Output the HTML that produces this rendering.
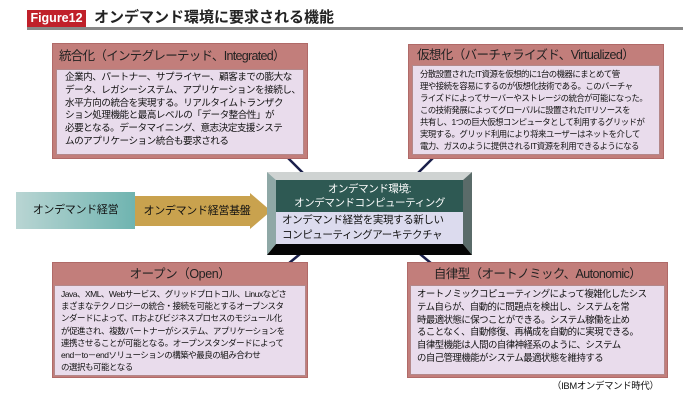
<!DOCTYPE html>
<html><head><meta charset="utf-8"><style>
body{margin:0;width:683px;height:404px;background:#fff;position:relative;overflow:hidden;font-family:"Liberation Sans","Noto Sans CJK JP",sans-serif;color:#111}
.a{position:absolute}
.box{position:absolute;background:#c27e7b;border:1px solid #b06a68}
.hd{height:22px;line-height:22px;text-align:center;font-size:12.5px;color:#222;white-space:nowrap;letter-spacing:-0.4px}
.bd{position:absolute;background:#e9dcec;border:1px solid #b3888a;font-size:9.4px;line-height:13px;padding:2px 0 0 8px;box-sizing:border-box;letter-spacing:-0.4px;white-space:nowrap;overflow:hidden}
</style></head><body>
<div class="a" style="left:27px;top:10px;width:59px;height:17px;background:#c0202a;color:#fff;font-weight:bold;font-size:12.5px;line-height:17px;text-align:center">Figure12</div>
<div class="a" style="left:94px;top:9px;font-size:15px;line-height:18px;font-weight:bold;color:#222">オンデマンド環境に要求される機能</div>
<div class="a" style="left:27px;top:27px;width:656px;height:3px;background:#888"></div>

<svg class="a" style="left:0;top:0" width="683" height="404">
<g stroke="#1a1f4a" stroke-width="2.5">
<line x1="288" y1="158" x2="303" y2="173"/>
<line x1="433" y1="158" x2="418" y2="173"/>
<line x1="300" y1="254" x2="288" y2="264"/>
<line x1="420" y1="254" x2="432" y2="264"/>
</g>
<polygon points="135,196 250,196 250,193 271,211 250,229 250,226 135,226" fill="#c9a24e"/>
<polygon points="267,172 472,172 463,180 276,180" fill="#cfd3d2"/>
<polygon points="267,172 276,180 276,244 267,255" fill="#8fa8a6"/>
<polygon points="472,172 463,180 463,244 472,255" fill="#5a6b69"/>
<polygon points="267,255 276,244 463,244 472,255" fill="#050505"/>
</svg>

<div class="a" style="left:16px;top:192px;width:119px;height:37px;background:linear-gradient(90deg,#b9d5d3,#6fb4b0);line-height:37px;text-align:center;font-size:11px;letter-spacing:-0.3px">オンデマンド経営</div>
<div class="a" style="left:138px;top:196px;width:118px;height:30px;line-height:30px;text-align:center;font-size:11px;letter-spacing:-0.3px">オンデマンド経営基盤</div>

<div class="a" style="left:276px;top:180px;width:187px;height:32px;background:#2e5953;color:#fff;font-size:10.5px;line-height:14px;text-align:center;padding-top:2px;box-sizing:border-box;letter-spacing:-0.4px;white-space:nowrap">オンデマンド環境:<br>オンデマンドコンピューティング</div>
<div class="a" style="left:276px;top:212px;width:187px;height:32px;background:#dcdbee;font-size:10.5px;line-height:15px;padding:1px 0 0 6px;box-sizing:border-box;white-space:nowrap;letter-spacing:-0.4px">オンデマンド経営を実現する新しい<br>コンピューティングアーキテクチャ</div>

<div class="box" style="left:52px;top:43px;width:254px;height:114px"><div class="hd" style="height:25px;line-height:25px;text-align:left;padding-left:6px;font-size:12.5px;letter-spacing:-0.7px">統合化（インテグレーテッド、Integrated）</div>
<div class="bd" style="left:3px;top:25px;width:248px;height:86px;font-size:9.6px;line-height:12.8px;letter-spacing:-0.5px">企業内、パートナー、サプライヤー、顧客までの膨大な<br>データ、レガシーシステム、アプリケーションを接続し、<br>水平方向の統合を実現する。リアルタイムトランザク<br>ション処理機能と最高レベルの「データ整合性」が<br>必要となる。データマイニング、意志決定支援システ<br>ムのアプリケーション統合も要求される</div></div>

<div class="box" style="left:408px;top:44px;width:254px;height:113px"><div class="hd" style="height:20px;line-height:20px;text-align:left;padding-left:8px;letter-spacing:-0.6px">仮想化（バーチャライズド、Virtualized）</div>
<div class="bd" style="left:3px;top:20px;width:248px;height:90px;font-size:8.4px;line-height:12px;padding-left:7px;letter-spacing:-0.5px">分散設置されたIT資源を仮想的に1台の機器にまとめて管<br>理や接続を容易にするのが仮想化技術である。このバーチャ<br>ライズドによってサーバーやストレージの統合が可能になった。<br>この技術発展によってグローバルに設置されたITリソースを<br>共有し、1つの巨大仮想コンピュータとして利用するグリッドが<br>実現する。グリッド利用により将来ユーザーはネットを介して<br>電力、ガスのように提供されるIT資源を利用できるようになる</div></div>

<div class="box" style="left:52px;top:262px;width:254px;height:114px"><div class="hd">オープン（Open）</div>
<div class="bd" style="left:1px;top:22px;width:252px;height:91px;font-size:8.5px;line-height:12.2px;padding-left:6px;letter-spacing:-0.5px">Java、XML、Webサービス、グリッドプロトコル、Linuxなどさ<br>まざまなテクノロジーの統合・接続を可能とするオープンスタ<br>ンダードによって、ITおよびビジネスプロセスのモジュール化<br>が促進され、複数パートナーがシステム、アプリケーションを<br>連携させることが可能となる。オープンスタンダードによって<br>end－to－endソリューションの構築や最良の組み合わせ<br>の選択も可能となる</div></div>

<div class="box" style="left:407px;top:262px;width:259px;height:114px"><div class="hd" style="letter-spacing:-0.6px">自律型（オートノミック、Autonomic）</div>
<div class="bd" style="left:2px;top:22px;width:255px;height:90px;font-size:9.4px;line-height:12.8px;padding-left:6px;letter-spacing:-0.5px">オートノミックコピューティングによって複雑化したシス<br>テム自らが、自動的に問題点を検出し、システムを常<br>時最適状態に保つことができる。システム稼働を止め<br>ることなく、自動修復、再構成を自動的に実現できる。<br>自律型機能は人間の自律神経系のように、システム<br>の自己管理機能がシステム最適状態を維持する</div></div>

<div class="a" style="left:552px;top:379px;font-size:9.4px;line-height:14px;letter-spacing:-0.3px">（IBMオンデマンド時代）</div>
</body></html>
